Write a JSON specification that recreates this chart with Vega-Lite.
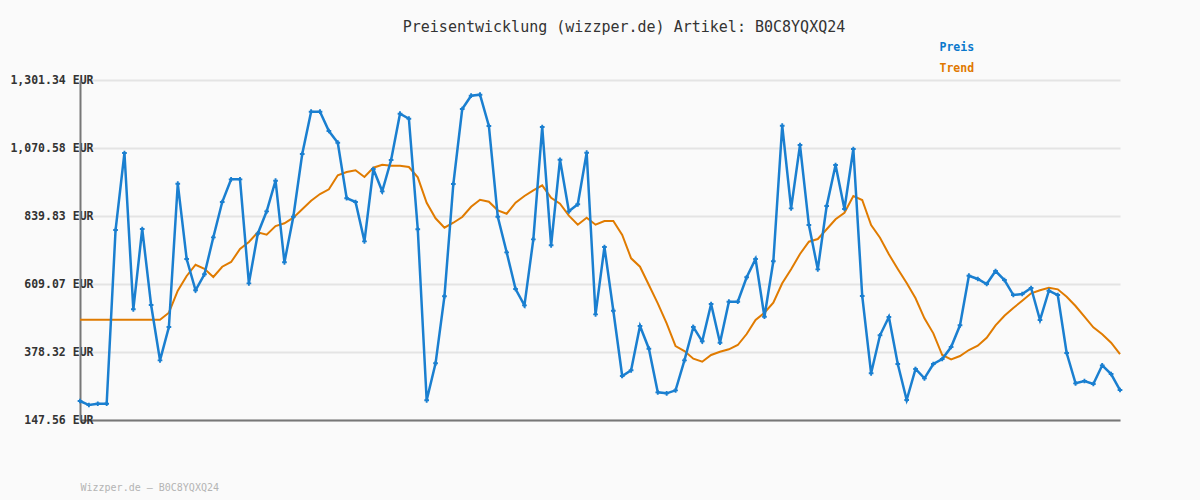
{
  "$schema": "https://vega.github.io/schema/vega-lite/v6.json",
  "width": 1040,
  "height": 340,
  "autosize": {"type": "none"},
  "padding": {"left": 80, "top": 80, "right": 80, "bottom": 80},
  "background": "#fafafa",
  "title": {"text": "Preisentwicklung (wizzper.de) Artikel: B0C8YQXQ24", "font": "DejaVu Sans Mono", "fontSize": 15, "fontWeight": "normal", "color": "#333333", "anchor": "middle", "dx": 24, "offset": -8, "baseline": "bottom"},
  "config": {"view": {"stroke": null}},
  "data": {"values": [
    {"i":0,"Preis":212.0,"Trend":487.9},{"i":1,"Preis":198.4,"Trend":487.9},{"i":2,"Preis":202.8,"Trend":487.9},{"i":3,"Preis":202.8,"Trend":487.9},{"i":4,"Preis":792.3,"Trend":487.9},{"i":5,"Preis":1053.6,"Trend":487.9},{"i":6,"Preis":523.2,"Trend":487.9},{"i":7,"Preis":795.7,"Trend":487.9},{"i":8,"Preis":537.8,"Trend":487.9},{"i":9,"Preis":350.1,"Trend":487.9},
    {"i":10,"Preis":463.1,"Trend":511.6},{"i":11,"Preis":949.4,"Trend":586.3},{"i":12,"Preis":693.9,"Trend":636.2},{"i":13,"Preis":587.7,"Trend":674.5},{"i":14,"Preis":642.0,"Trend":660.9},{"i":15,"Preis":767.5,"Trend":632.8},{"i":16,"Preis":887.3,"Trend":667.7},{"i":17,"Preis":964.3,"Trend":683.7},{"i":18,"Preis":964.3,"Trend":727.8},{"i":19,"Preis":611.4,"Trend":751.6},
    {"i":20,"Preis":779.7,"Trend":784.5},{"i":21,"Preis":855.7,"Trend":776.3},{"i":22,"Preis":959.6,"Trend":805.8},{"i":23,"Preis":682.7,"Trend":815.0},{"i":24,"Preis":837.4,"Trend":834.0},{"i":25,"Preis":1050.2,"Trend":862.5},{"i":26,"Preis":1193.8,"Trend":891.7},{"i":27,"Preis":1193.8,"Trend":914.4},{"i":28,"Preis":1128.3,"Trend":930.4},{"i":29,"Preis":1088.6,"Trend":977.9},
    {"i":30,"Preis":900.2,"Trend":989.1},{"i":31,"Preis":887.3,"Trend":994.9},{"i":32,"Preis":753.9,"Trend":972.1},{"i":33,"Preis":999.3,"Trend":1003.7},{"i":34,"Preis":923.6,"Trend":1013.9},{"i":35,"Preis":1029.9,"Trend":1010.5},{"i":36,"Preis":1187.0,"Trend":1010.5},{"i":37,"Preis":1170.0,"Trend":1006.1},{"i":38,"Preis":794.7,"Trend":971.1},{"i":39,"Preis":214.4,"Trend":884.9},
    {"i":40,"Preis":340.0,"Trend":832.0},{"i":41,"Preis":567.3,"Trend":800.1},{"i":42,"Preis":948.4,"Trend":817.0},{"i":43,"Preis":1202.9,"Trend":836.4},{"i":44,"Preis":1248.0,"Trend":871.3},{"i":45,"Preis":1251.4,"Trend":895.1},{"i":46,"Preis":1145.2,"Trend":888.3},{"i":47,"Preis":837.4,"Trend":859.1},{"i":48,"Preis":716.6,"Trend":847.6},{"i":49,"Preis":592.1,"Trend":884.9},
    {"i":50,"Preis":536.7,"Trend":907.7},{"i":51,"Preis":760.7,"Trend":927.0},{"i":52,"Preis":1141.8,"Trend":944.0},{"i":53,"Preis":740.4,"Trend":901.9},{"i":54,"Preis":1030.8,"Trend":881.5},{"i":55,"Preis":855.7,"Trend":840.8},{"i":56,"Preis":879.5,"Trend":810.3},{"i":57,"Preis":1054.6,"Trend":834.0},{"i":58,"Preis":506.2,"Trend":810.3},{"i":59,"Preis":734.6,"Trend":822.8},
    {"i":60,"Preis":518.4,"Trend":822.8},{"i":61,"Preis":296.8,"Trend":775.3},{"i":62,"Preis":316.2,"Trend":696.2},{"i":63,"Preis":466.5,"Trend":667.7},{"i":64,"Preis":389.5,"Trend":605.6},{"i":65,"Preis":241.5,"Trend":543.5},{"i":66,"Preis":238.1,"Trend":475.7},{"i":67,"Preis":248.3,"Trend":398.6},{"i":68,"Preis":350.1,"Trend":381.7},{"i":69,"Preis":463.1,"Trend":355.5},
    {"i":70,"Preis":414.6,"Trend":345.3},{"i":71,"Preis":541.2,"Trend":368.1},{"i":72,"Preis":409.8,"Trend":379.3},{"i":73,"Preis":549.0,"Trend":387.4},{"i":74,"Preis":549.0,"Trend":402.0},{"i":75,"Preis":631.8,"Trend":439.3},{"i":76,"Preis":693.9,"Trend":486.9},{"i":77,"Preis":498.1,"Trend":511.6},{"i":78,"Preis":686.1,"Trend":545.6},{"i":79,"Preis":1146.2,"Trend":611.4},
    {"i":80,"Preis":865.9,"Trend":658.9},{"i":81,"Preis":1080.7,"Trend":710.8},{"i":82,"Preis":809.2,"Trend":752.6},{"i":83,"Preis":658.9,"Trend":761.7},{"i":84,"Preis":873.7,"Trend":794.7},{"i":85,"Preis":1012.9,"Trend":828.6},{"i":86,"Preis":863.5,"Trend":851.0},{"i":87,"Preis":1067.2,"Trend":907.7},{"i":88,"Preis":568.3,"Trend":894.1},{"i":89,"Preis":306.0,"Trend":809.2},
    {"i":90,"Preis":435.0,"Trend":766.1},{"i":91,"Preis":497.0,"Trend":709.8},{"i":92,"Preis":337.6,"Trend":659.9},{"i":93,"Preis":215.4,"Trend":612.4},{"i":94,"Preis":320.6,"Trend":560.5},{"i":95,"Preis":289.0,"Trend":492.6},{"i":96,"Preis":337.6,"Trend":441.7},{"i":97,"Preis":354.5,"Trend":368.1},{"i":98,"Preis":395.2,"Trend":353.5},{"i":99,"Preis":468.9,"Trend":364.7},
    {"i":100,"Preis":637.2,"Trend":385.1},{"i":101,"Preis":626.0,"Trend":399.7},{"i":102,"Preis":609.0,"Trend":426.8},{"i":103,"Preis":653.1,"Trend":468.9},{"i":104,"Preis":622.6,"Trend":501.5},{"i":105,"Preis":571.7,"Trend":527.6},{"i":106,"Preis":575.1,"Trend":552.4},{"i":107,"Preis":595.5,"Trend":577.5},{"i":108,"Preis":486.9,"Trend":587.7},{"i":109,"Preis":586.3,"Trend":596.5},
    {"i":110,"Preis":571.7,"Trend":591.0},{"i":111,"Preis":374.9,"Trend":565.9},{"i":112,"Preis":272.0,"Trend":534.4},{"i":113,"Preis":279.9,"Trend":498.1},{"i":114,"Preis":269.7,"Trend":462.1},{"i":115,"Preis":333.1,"Trend":438.3},{"i":116,"Preis":303.6,"Trend":409.8},{"i":117,"Preis":249.3,"Trend":371.5}
  ]},
  "transform": [{"fold": ["Preis", "Trend"], "as": ["Serie", "Wert"]}],
  "encoding": {
    "x": {"field": "i", "type": "quantitative", "scale": {"domain": [0, 117], "nice": false, "zero": false},
      "axis": {"title": "Wizzper.de – B0C8YQXQ24", "titleFont": "DejaVu Sans Mono", "titleFontSize": 10, "titleFontWeight": "normal", "titleColor": "#b4b4b4", "titleAnchor": "start", "titleAlign": "left", "titleBaseline": "middle", "titlePadding": 67, "labels": false, "ticks": false, "grid": false, "domainColor": "#777777", "domainWidth": 2}},
    "y": {"field": "Wert", "type": "quantitative", "scale": {"domain": [147.56, 1301.34], "nice": false, "zero": false},
      "axis": {"title": null, "values": [147.56, 378.316, 609.072, 839.828, 1070.584, 1301.34], "labelExpr": "format(datum.value, ',.2f') + ' EUR'", "labelFont": "DejaVu Sans Mono", "labelFontSize": 11.5, "labelFontWeight": "bold", "labelColor": "#333333", "labelAlign": "right", "labelBaseline": "middle", "labelPadding": -13, "ticks": false, "gridColor": "#e4e4e4", "gridWidth": 2, "domainColor": "#777777", "domainWidth": 2}},
    "color": {"field": "Serie", "type": "nominal", "scale": {"domain": ["Preis", "Trend"], "range": ["#1a7fd0", "#e07b00"]},
      "legend": {"orient": "none", "legendX": 848, "legendY": -38, "direction": "vertical", "title": null, "symbolOpacity": 0, "symbolSize": 0, "symbolStrokeWidth": 0, "labelOffset": 0, "labelFont": "DejaVu Sans Mono", "labelFontSize": 11.5, "labelFontWeight": "bold", "labelColor": {"expr": "datum.label == 'Preis' ? '#0b78cc' : '#e07800'"}, "rowPadding": 8}}
  },
  "layer": [
    {"transform": [{"filter": "datum.Serie == 'Trend'"}], "mark": {"type": "line", "strokeWidth": 2}},
    {"transform": [{"filter": "datum.Serie == 'Preis'"}], "mark": {"type": "line", "strokeWidth": 2.5}},
    {"transform": [{"filter": "datum.Serie == 'Preis'"}], "mark": {"type": "point", "shape": "cross", "size": 22, "filled": true, "opacity": 1}}
  ]
}
